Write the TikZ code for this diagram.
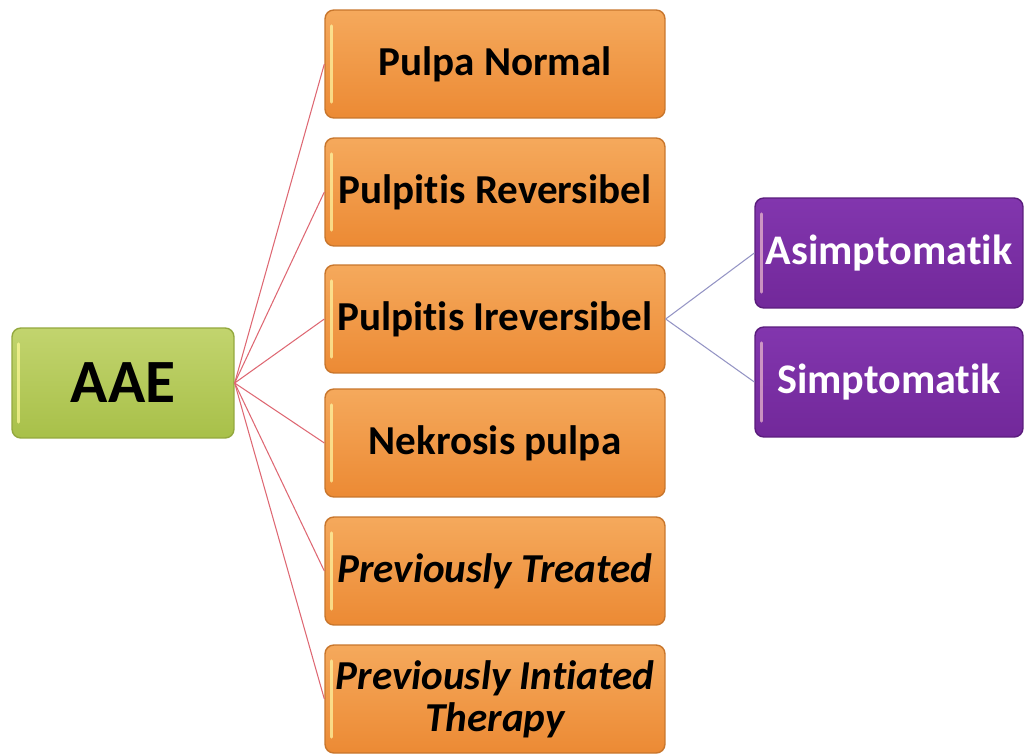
\documentclass[tikz,border=0pt]{standalone}
\usepackage{fontspec}
\setmainfont[Ligatures=NoCommon]{Carlito}
\usetikzlibrary{positioning}

\definecolor{orangetop}{HTML}{F5A95C}
\definecolor{orangebot}{HTML}{EC8A34}
\definecolor{orangeedge}{HTML}{C8762C}
\definecolor{greentop}{HTML}{C2D46E}
\definecolor{greenbot}{HTML}{A8C049}
\definecolor{greenedge}{HTML}{93A83E}
\definecolor{purpletop}{HTML}{8236AE}
\definecolor{purplebot}{HTML}{72289A}
\definecolor{purpleedge}{HTML}{5A1C7C}
\definecolor{redline}{HTML}{DE6873}
\definecolor{blueline}{HTML}{9494C4}

\tikzset{
  glossbox/.style={rounded corners=5pt, line width=0.8pt, align=center,
    font=\bfseries, inner sep=2pt,
    path picture={\draw[line width=1.6pt, line cap=round, opacity=0.7, #1]
      ([xshift=3.5pt,yshift=-9pt]path picture bounding box.north west) --
      ([xshift=3.5pt,yshift=9pt]path picture bounding box.south west);}},
  rootbox/.style={glossbox=yellow!40!white, draw=greenedge, top color=greentop,
    bottom color=greenbot, minimum width=4.44cm, minimum height=2.2cm,
    font=\bfseries\fontsize{35}{38}\selectfont},
  statebox/.style={glossbox=yellow!35!white, draw=orangeedge, top color=orangetop,
    bottom color=orangebot, minimum width=6.8cm, minimum height=2.16cm,
    font=\bfseries\fontsize{23.4}{28}\selectfont},
  subbox/.style={glossbox=purple!25!white, draw=purpleedge, top color=purpletop,
    bottom color=purplebot, minimum width=5.36cm, minimum height=2.2cm,
    text=white, font=\bfseries\fontsize{24}{29}\selectfont},
  rootlink/.style={redline, line width=0.6pt},
  sublink/.style={blueline, line width=0.6pt}
}

\begin{document}
\begin{tikzpicture}[x=0.02cm, y=-0.02cm]
\useasboundingbox (0,0) rectangle (1024,754);

% Root
\node[rootbox] (aae) at (123,383) {AAE};

% Pulp states
\node[statebox] (normal) at (495,64) {Pulpa Normal};
\node[statebox] (rev) at (495,192) {Pulpitis Reversibel};
\node[statebox] (irrev) at (495,319) {Pulpitis Ireversibel};
\node[statebox] (nekrosis) at (495,443) {Nekrosis pulpa};
\node[statebox] (treated) at (495,571) {\itshape Previously Treated};
\node[statebox] (initiated) at (495,699) {\itshape Previously Intiated\\[-4pt]\itshape Therapy};

% Sub-types
\node[subbox] (asim) at (889,253) {Asimptomatik};
\node[subbox] (sim) at (889,382) {Simptomatik};

% Links from the root
\foreach \n in {normal,rev,irrev,nekrosis,treated,initiated}
  \draw[rootlink] (aae.east) -- (\n.west);

% Links to the sub-types
\draw[sublink] (irrev.east) -- (asim.west);
\draw[sublink] (irrev.east) -- (sim.west);
\end{tikzpicture}
\end{document}
